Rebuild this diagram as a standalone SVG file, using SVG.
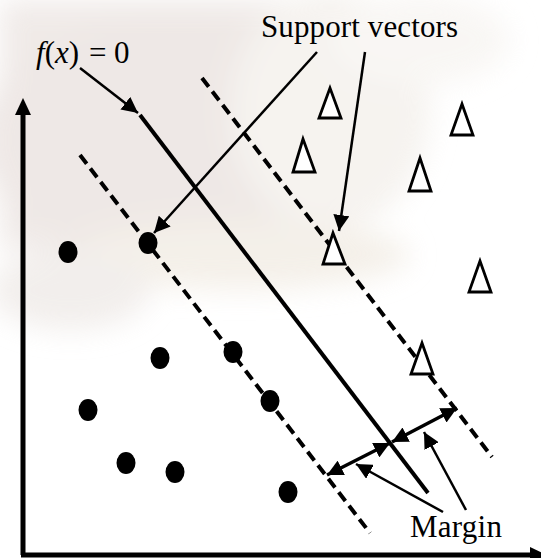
<svg xmlns="http://www.w3.org/2000/svg" width="541" height="558" viewBox="0 0 541 558">
<defs>
<filter id="blur" x="-20%" y="-20%" width="140%" height="140%"><feGaussianBlur stdDeviation="14"/></filter>
<marker id="ah" viewBox="0 0 10 10" refX="10" refY="5" markerWidth="16" markerHeight="16" markerUnits="userSpaceOnUse" orient="auto-start-reverse"><path d="M0,0 L10,5 L0,10 Z" fill="#000"/></marker>
<style>
.lbl{font-family:"Liberation Serif","Times New Roman",serif;fill:#000}
.axis{stroke:#000;stroke-width:5;fill:none}
.solid{stroke:#000;stroke-width:4;fill:none}
.dash{stroke:#000;stroke-width:4;fill:none;stroke-dasharray:11 6}
.ptr{stroke:#000;stroke-width:2.5;fill:none;marker-end:url(#ah)}
.dbl{stroke:#000;stroke-width:3.5;fill:none;marker-start:url(#ah);marker-end:url(#ah)}
.dot{fill:#000}
.tri{fill:#fff;stroke:#000;stroke-width:2.8;stroke-linejoin:miter}
</style>
</defs>
<rect width="541" height="558" fill="#ffffff"/>
<g id="watermark" filter="url(#blur)" opacity="0.75">
<rect x="0" y="0" width="320" height="250" fill="#ebe4e1"/>
<ellipse cx="170" cy="140" rx="190" ry="130" fill="#e9e1de"/>
<ellipse cx="330" cy="110" rx="100" ry="120" fill="#f3efea"/>
<ellipse cx="240" cy="255" rx="170" ry="35" fill="#f1ebe2"/>
<ellipse cx="70" cy="290" rx="80" ry="40" fill="#eee9e6"/>
<ellipse cx="420" cy="40" rx="90" ry="45" fill="#f7f4f1"/>
</g>
<g id="axes">
<line class="axis" x1="23" y1="112" x2="23" y2="555"/>
<path d="M23,98 L15,115 L31,115 Z" fill="#000"/>
<line class="axis" x1="21" y1="555" x2="530" y2="555"/>
<path d="M547,555 L530,547 L530,563 Z" fill="#000"/>
</g>
<g id="boundary">
<line class="solid" x1="140" y1="115" x2="428" y2="493"/>
</g>
<g id="margin-left">
<line class="dash" x1="80" y1="155" x2="370" y2="533"/>
</g>
<g id="margin-right">
<line class="dash" x1="202" y1="78" x2="492" y2="457"/>
</g>
<g id="class-circles">
<ellipse class="dot" cx="68" cy="252" rx="9.5" ry="11"/>
<ellipse class="dot" cx="148" cy="243" rx="9.5" ry="11"/>
<ellipse class="dot" cx="160" cy="358" rx="9.5" ry="11"/>
<ellipse class="dot" cx="233" cy="352" rx="9.5" ry="11"/>
<ellipse class="dot" cx="88" cy="410" rx="9.5" ry="11"/>
<ellipse class="dot" cx="126" cy="463" rx="9.5" ry="11"/>
<ellipse class="dot" cx="175" cy="472" rx="9.5" ry="11"/>
<ellipse class="dot" cx="270" cy="401" rx="9.5" ry="11"/>
<ellipse class="dot" cx="288" cy="492" rx="9.5" ry="11"/>
</g>
<g id="class-triangles">
<polygon class="tri" points="330,88 319,118 341,118"/>
<polygon class="tri" points="303,139 293,172 315,172"/>
<polygon class="tri" points="462,104 451,135 473,135"/>
<polygon class="tri" points="420,158 409,191 431,191"/>
<polygon class="tri" points="333,233 323,264 345,264"/>
<polygon class="tri" points="480,261 469,292 491,292"/>
<polygon class="tri" points="422,343 411,374 433,374"/>
</g>
<g id="connectors">
<line class="ptr" x1="80" y1="68" x2="138" y2="113"/>
<line class="ptr" x1="317" y1="52" x2="154" y2="233"/>
<line class="ptr" x1="365" y1="52" x2="339" y2="231"/>
<line class="dbl" x1="327" y1="475" x2="390" y2="443"/>
<line class="dbl" x1="392" y1="442" x2="457" y2="408"/>
<line class="ptr" x1="443" y1="512" x2="356" y2="464"/>
<line class="ptr" x1="466" y1="510" x2="424" y2="432"/>
</g>
<g id="label-fx">
<text class="lbl" font-size="31" y="63"><tspan x="36" font-style="italic">f</tspan><tspan>(</tspan><tspan font-style="italic">x</tspan><tspan>)</tspan><tspan x="89">=</tspan><tspan x="114">0</tspan></text>
</g>
<g id="label-sv">
<text class="lbl" font-size="31" x="261" y="37" textLength="197">Support vectors</text>
</g>
<g id="label-margin">
<text class="lbl" font-size="31" x="410" y="537" textLength="92">Margin</text>
</g>
</svg>
